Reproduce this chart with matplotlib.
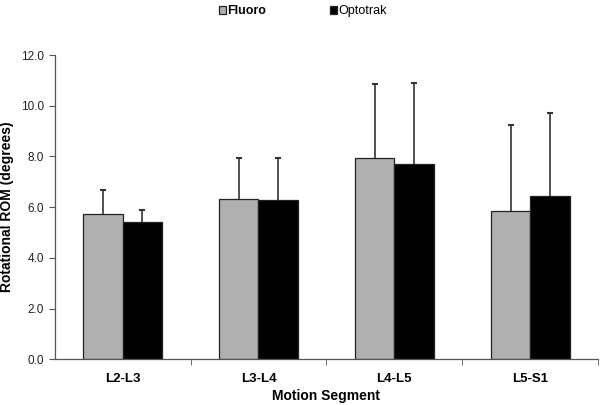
import matplotlib.pyplot as plt
import numpy as np

# data
segments = ['L2-L3', 'L3-L4', 'L4-L5', 'L5-S1']
fluoro = [5.72, 6.32, 7.93, 5.85]
fluoro_sd = [0.96, 1.61, 2.93, 3.40]
optotrak = [5.42, 6.30, 7.72, 6.43]
optotrak_sd = [0.45, 1.63, 3.18, 3.29]
y_ticks = [0, 2, 4, 6, 8, 10, 12]

plt.rcParams['font.family'] = ['Liberation Sans', 'DejaVu Sans']

fig = plt.figure(figsize=(6, 4.05), dpi=100)
ax = fig.add_axes([0.091, 0.113, 0.906, 0.751])

x = np.arange(len(segments))
w = 0.29
err_kw = dict(ecolor='#333333', elinewidth=1.2, capsize=2.5, capthick=1.5)
b1 = ax.bar(x - w / 2, fluoro, w, color='#b0b0b0', edgecolor='#222222', linewidth=0.9,
            yerr=[np.zeros(4), fluoro_sd], error_kw=err_kw, label='Fluoro')
b2 = ax.bar(x + w / 2, optotrak, w, color='black', edgecolor='#222222', linewidth=0.9,
            yerr=[np.zeros(4), optotrak_sd], error_kw=err_kw, label='Optotrak')
# only the upper caps
for b in (b1, b2):
    caps = b.errorbar.lines[1]
    caps[0].set_visible(False)

ax.set_xlim(-0.5, 3.5)
ax.set_ylim(0, 12)
ax.set_yticks(y_ticks)
ax.set_yticklabels([f'{v:.1f}' for v in y_ticks], fontsize=8.5, color='#222222')
ax.set_xticks(x)
ax.set_xticklabels(segments, fontsize=9.5, fontweight='bold')
ax.tick_params(axis='x', which='major', length=0, pad=10)
ax.set_xticks(np.arange(0.5, 4, 1), minor=True)
ax.tick_params(axis='x', which='minor', length=4, color='#555555', direction='out')
ax.tick_params(axis='y', length=4, color='#555555', direction='out')

for s in ['top', 'right']:
    ax.spines[s].set_visible(False)
for s in ['left', 'bottom']:
    ax.spines[s].set_color('#555555')
    ax.spines[s].set_linewidth(0.9)

ax.set_ylabel('Rotational ROM (degrees)', fontsize=10, fontweight='bold')
ax.yaxis.set_label_coords(-0.074, 0.5)
ax.set_xlabel('Motion Segment', fontsize=10, fontweight='bold', labelpad=3)

leg = fig.legend(handles=[b1, b2], labels=['Fluoro', 'Optotrak'], loc='upper center',
                 bbox_to_anchor=(0.505, 1.015), ncol=2, frameon=False, fontsize=9,
                 handlelength=0.55, handleheight=0.55, handletextpad=0.15, columnspacing=5.1)
leg.get_texts()[0].set_fontweight('bold')

fig.savefig('out.png', dpi=100)
